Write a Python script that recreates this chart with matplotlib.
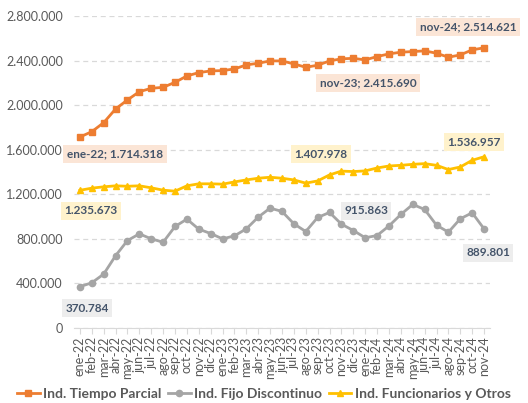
import matplotlib.pyplot as plt
import numpy as np

plt.rcParams['font.family'] = ['Lato', 'DejaVu Sans']

meses = ["ene-22", "feb-22", "mar-22", "abr-22", "may-22", "jun-22", "jul-22", "ago-22",
         "sep-22", "oct-22", "nov-22", "dic-22", "ene-23", "feb-23", "mar-23", "abr-23",
         "may-23", "jun-23", "jul-23", "ago-23", "sep-23", "oct-23", "nov-23", "dic-23",
         "ene-24", "feb-24", "mar-24", "abr-24", "may-24", "jun-24", "jul-24", "ago-24",
         "sep-24", "oct-24", "nov-24"]

tiempo_parcial = [1714318, 1762000, 1843000, 1966000, 2047000, 2121000, 2151000, 2160000,
                  2205000, 2262000, 2292000, 2307000, 2310000, 2325000, 2361000, 2376000,
                  2397000, 2397000, 2370000, 2340000, 2358000, 2397000, 2415690, 2420000,
                  2406000, 2436000, 2460000, 2475000, 2481000, 2487000, 2466000, 2430000,
                  2451000, 2496000, 2514621]

fijo_discontinuo = [370784, 406000, 484000, 649000, 785000, 845000, 800000, 770000,
                    911000, 977000, 887000, 848000, 800000, 827000, 890000, 995000,
                    1076000, 1046000, 935000, 866000, 992000, 1037000, 932000, 875000,
                    810000, 830000, 915863, 1019000, 1109000, 1064000, 923000, 860000,
                    980000, 1034000, 889801]

funcionarios = [1235673, 1255000, 1267000, 1276000, 1272000, 1276000, 1258000, 1237000,
                1228000, 1276000, 1294000, 1294000, 1291000, 1311000, 1329000, 1344000,
                1353000, 1344000, 1329000, 1300000, 1320000, 1374000, 1407978, 1404000,
                1410000, 1436000, 1454000, 1460000, 1469000, 1475000, 1460000, 1422000,
                1445000, 1505000, 1536957]

W, H = 528, 403
fig = plt.figure(figsize=(W / 100, H / 100), dpi=100)
ax = fig.add_axes([74 / W, 1 - 328 / H, (490 - 74) / W, (328 - 16) / H])

x = np.arange(len(meses))
l1, = ax.plot(x, tiempo_parcial, color='#ED7D31', lw=2, marker='s', ms=5,
              label='Ind. Tiempo Parcial')
l2, = ax.plot(x, fijo_discontinuo, color='#A5A5A5', lw=2, marker='o', ms=4.5,
              label='Ind. Fijo Discontinuo')
l3, = ax.plot(x, funcionarios, color='#FFC000', lw=2, marker='^', ms=4,
              label='Ind. Funcionarios y Otros')

ax.set_xlim(-0.5, len(meses) - 0.5)
ax.set_ylim(0, 2800000)
yt = np.arange(0, 2800001, 400000)
ax.set_yticks(yt)
ax.set_yticklabels(['0'] + [f"{v:,}".replace(',', '.') for v in yt[1:]])
ax.set_xticks(x)
ax.set_xticklabels(meses, rotation=90)
ax.grid(axis='y', color='#D9D9D9', ls=(0, (4, 3)), lw=0.9)
ax.set_axisbelow(True)
for s in ['top', 'right', 'left']:
    ax.spines[s].set_visible(False)
ax.spines['bottom'].set_color('#D9D9D9')
ax.tick_params(axis='y', length=0, labelsize=9, colors='#595959', pad=8)
ax.tick_params(axis='x', length=4, color='#D9D9D9', labelsize=9, colors='#595959', pad=2)


def etiqueta(i, serie, texto, cx, cy, fondo):
    ax.annotate(texto, xy=(i, serie[i]), xycoords='data',
                xytext=(cx, H - cy), textcoords='figure pixels',
                ha='center', va='center', fontsize=8.5, fontweight='bold',
                color='#44546A',
                bbox=dict(boxstyle='square,pad=0.3', fc=fondo, ec='none'))


etiqueta(0, tiempo_parcial, 'ene-22; 1.714.318', 115, 154, '#FBE5D6')
etiqueta(22, tiempo_parcial, 'nov-23; 2.415.690', 368, 83, '#FBE5D6')
etiqueta(34, tiempo_parcial, 'nov-24; 2.514.621', 468, 27, '#FBE5D6')
etiqueta(22, funcionarios, '1.407.978', 321, 154, '#FFF2CC')
etiqueta(34, funcionarios, '1.536.957', 474, 142, '#FFF2CC')
etiqueta(0, funcionarios, '1.235.673', 91, 211, '#FFF2CC')
etiqueta(0, fijo_discontinuo, '370.784', 87, 308, '#EDEDED')
etiqueta(26, fijo_discontinuo, '915.863', 366, 211, '#EDEDED')
etiqueta(34, fijo_discontinuo, '889.801', 488, 253, '#EDEDED')

fig.legend(handles=[l1, l2, l3], loc='center', bbox_to_anchor=(0.5, 9 / H),
           ncol=3, frameon=False, handlelength=1.6, handletextpad=0.25,
           columnspacing=0.5, labelcolor='#595959', borderpad=0.1,
           prop={'size': 10, 'weight': 'bold'})

fig.savefig('out.png', dpi=100)
